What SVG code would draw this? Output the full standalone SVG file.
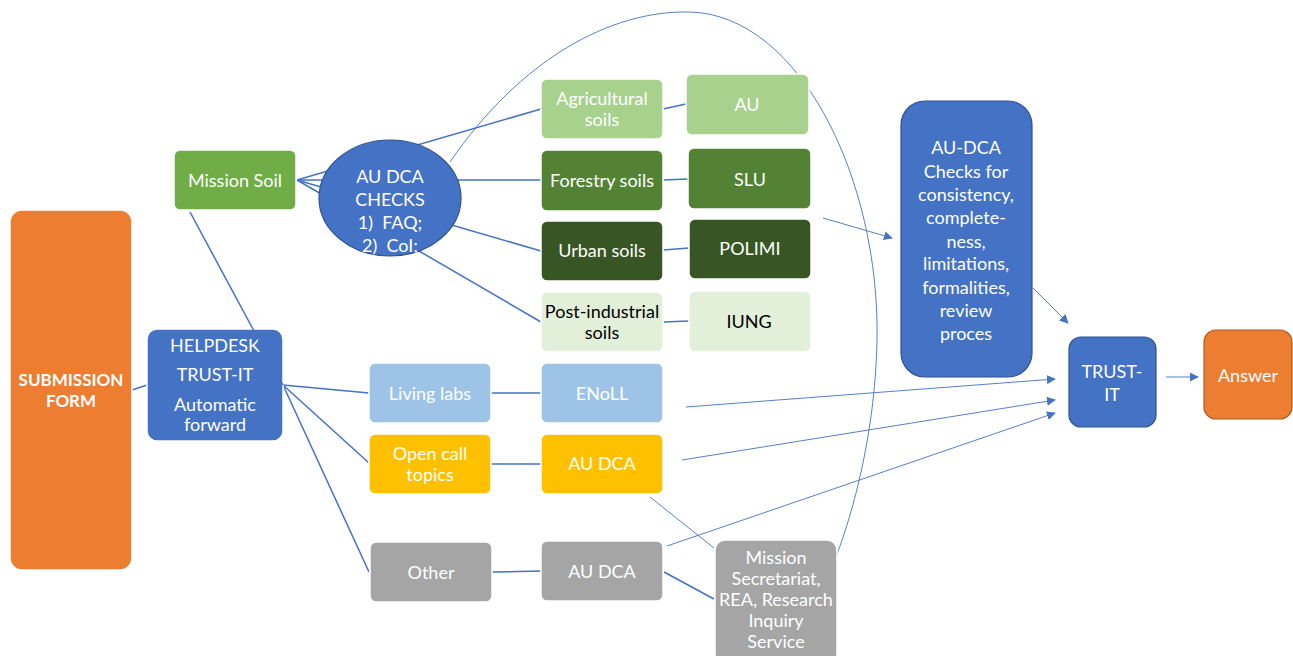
<svg xmlns="http://www.w3.org/2000/svg" width="1293" height="656" viewBox="0 0 1293 656">
<defs>
<style>
.t{font-family:Lato,"Liberation Sans",sans-serif;font-size:18px;fill:#fff;text-anchor:middle;dominant-baseline:central}
.k{fill:#000}
.b{font-weight:bold;font-size:17px}
.n{stroke:#fff;stroke-width:1.5}
.c{fill:none;stroke:#4472C4;stroke-width:1.5}
.thin{fill:none;stroke:#4472C4;stroke-width:0.9}
</style>
<marker id="ah" viewBox="0 0 10 10" refX="9" refY="5" markerWidth="9" markerHeight="9" markerUnits="userSpaceOnUse" orient="auto">
<path d="M0,0 L10,5 L0,10 z" fill="#4472C4"/>
</marker>
</defs>
<rect width="1293" height="656" fill="#fff"/>
<g id="connectors">
<line class="c" x1="132" y1="390" x2="147" y2="385"/>
<line class="c" x1="283" y1="385" x2="369" y2="393"/>
<line class="c" x1="283" y1="385" x2="369" y2="463"/>
<line class="c" x1="283" y1="385" x2="369" y2="572"/>
<line class="c" x1="297" y1="180" x2="541" y2="109"/>
<line class="c" x1="297" y1="180" x2="541" y2="180"/>
<line class="c" x1="297" y1="180" x2="541" y2="251"/>
<line class="c" x1="297" y1="180" x2="541" y2="322"/>
<line class="c" x1="663" y1="109" x2="686" y2="104"/>
<line class="c" x1="663" y1="180" x2="688" y2="179"/>
<line class="c" x1="663" y1="250" x2="689" y2="248"/>
<line class="c" x1="663" y1="322" x2="689" y2="321"/>
<line class="c" x1="491" y1="393" x2="541" y2="393"/>
<line class="c" x1="491" y1="464" x2="541" y2="464"/>
<line class="c" x1="492" y1="572" x2="541" y2="571"/>
<line class="c" x1="664" y1="572" x2="714" y2="599"/>
<line class="thin" x1="650" y1="497" x2="714" y2="548"/>
<line class="thin" x1="667" y1="546" x2="1055" y2="413" marker-end="url(#ah)"/>
<line class="thin" x1="686" y1="407" x2="1055" y2="379" marker-end="url(#ah)"/>
<line class="thin" x1="682" y1="460" x2="1055" y2="400" marker-end="url(#ah)"/>
<line class="thin" x1="823" y1="218" x2="892" y2="238" marker-end="url(#ah)"/>
<line class="thin" x1="1033" y1="288" x2="1068" y2="323" marker-end="url(#ah)"/>
<line class="thin" x1="1166" y1="377" x2="1198" y2="377" marker-end="url(#ah)"/>
<path class="thin" d="M450,162 C520,60 610,10 690,12 C800,15 880,180 877,340 C875,440 850,520 836,557"/>
</g>
<g id="submission"><rect class="n" x="10" y="210" width="122" height="360" rx="12" fill="#ED7D31"/><text class="t b" x="71" y="379">SUBMISSION</text><text class="t b" x="71" y="400">FORM</text></g>
<g id="missionsoil"><rect class="n" x="174" y="150" width="122" height="60" rx="6" fill="#70AD47"/><text class="t" x="235" y="180">Mission Soil</text></g>
<g id="checks"><ellipse cx="390" cy="198" rx="71" ry="58" fill="#4472C4" stroke="#2F528F" stroke-width="1.2"/><text class="t" x="390" y="176">AU DCA</text><text class="t" x="390" y="199">CHECKS</text><text class="t" x="390" y="222" xml:space="preserve">1)  FAQ;</text><text class="t" x="390" y="245" xml:space="preserve">2)  CoI;</text></g>
<g id="agri"><rect class="n" x="541" y="79" width="122" height="60" rx="6" fill="#A9D18E"/><text class="t" x="602" y="98">Agricultural</text><text class="t" x="602" y="119">soils</text></g>
<g id="au"><rect class="n" x="686" y="74" width="123" height="61" rx="6" fill="#A9D18E"/><text class="t" x="747" y="104">AU</text></g>
<g id="forestry"><rect class="n" x="541" y="150" width="122" height="61" rx="6" fill="#548235"/><text class="t" x="602" y="180">Forestry soils</text></g>
<g id="slu"><rect class="n" x="688" y="148" width="123" height="61" rx="6" fill="#548235"/><text class="t" x="750" y="179">SLU</text></g>
<g id="urban"><rect class="n" x="541" y="221" width="122" height="60" rx="6" fill="#375623"/><text class="t" x="602" y="250">Urban soils</text></g>
<g id="polimi"><rect class="n" x="689" y="219" width="122" height="60" rx="6" fill="#375623"/><text class="t" x="750" y="248">POLIMI</text></g>
<g id="postind"><rect class="n" x="541" y="292" width="122" height="60" rx="6" fill="#E2F0D9"/><text class="t k" x="602" y="311">Post-industrial</text><text class="t k" x="602" y="332">soils</text></g>
<g id="iung"><rect class="n" x="689" y="291" width="122" height="61" rx="6" fill="#E2F0D9"/><text class="t k" x="749" y="321">IUNG</text></g>
<g id="helpdesk"><rect class="n" x="147" y="329" width="136" height="112" rx="10" fill="#4472C4"/><text class="t" x="215" y="345">HELPDESK</text><text class="t" x="215" y="374">TRUST-IT</text><text class="t" x="215" y="404">Automatic</text><text class="t" x="215" y="424">forward</text></g>
<g id="livinglabs"><rect class="n" x="369" y="363" width="122" height="60" rx="6" fill="#9DC3E6"/><text class="t" x="430" y="393">Living labs</text></g>
<g id="enoll"><rect class="n" x="541" y="363" width="122" height="60" rx="6" fill="#9DC3E6"/><text class="t" x="602" y="393">ENoLL</text></g>
<g id="opencall"><rect class="n" x="369" y="434" width="122" height="60" rx="6" fill="#FFC000"/><text class="t" x="430" y="453">Open call</text><text class="t" x="430" y="474">topics</text></g>
<g id="audca1"><rect class="n" x="541" y="434" width="122" height="60" rx="6" fill="#FFC000"/><text class="t" x="602" y="463">AU DCA</text></g>
<g id="other"><rect class="n" x="370" y="542" width="122" height="60" rx="6" fill="#A5A5A5"/><text class="t" x="431" y="572">Other</text></g>
<g id="audca2"><rect class="n" x="541" y="541" width="122" height="60" rx="6" fill="#A5A5A5"/><text class="t" x="602" y="571">AU DCA</text></g>
<g id="secretariat"><rect class="n" x="715" y="540" width="122" height="124" rx="10" fill="#A5A5A5"/><text class="t" x="776" y="557">Mission</text><text class="t" x="776" y="578">Secretariat,</text><text class="t" x="776" y="599">REA, Research</text><text class="t" x="776" y="620">Inquiry</text><text class="t" x="776" y="641">Service</text></g>
<g id="audcachecks"><rect x="901" y="101" width="131" height="276" rx="24" fill="#4472C4" stroke="#2F528F" stroke-width="1.2"/><text class="t" x="966" y="147">AU-DCA</text><text class="t" x="966" y="171">Checks for</text><text class="t" x="966" y="194">consistency,</text><text class="t" x="966" y="217">complete-</text><text class="t" x="966" y="241">ness,</text><text class="t" x="966" y="263">limitations,</text><text class="t" x="966" y="287">formalities,</text><text class="t" x="966" y="310">review</text><text class="t" x="966" y="333">proces</text></g>
<g id="trustit"><rect x="1069" y="337" width="87" height="90" rx="12" fill="#4472C4" stroke="#2F528F" stroke-width="1.2"/><text class="t" x="1112" y="371">TRUST-</text><text class="t" x="1112" y="394">IT</text></g>
<g id="answer"><rect x="1204" y="330" width="88" height="89" rx="12" fill="#ED7D31" stroke="#AE5A21" stroke-width="1.2"/><text class="t" x="1248" y="375">Answer</text></g>
<g id="connectors-over">
<line class="c" x1="283" y1="385" x2="190" y2="212"/>
</g>
</svg>
